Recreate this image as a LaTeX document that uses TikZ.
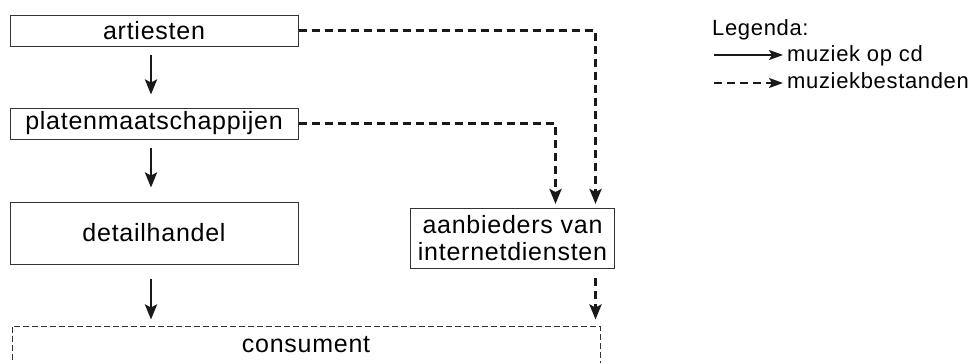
\documentclass[tikz,border=0pt]{standalone}
\usepackage{fontspec}
\setmainfont{Liberation Sans}[LetterSpace=3]
\usetikzlibrary{positioning, arrows.meta}
\tikzset{box/.style={draw=black!80, line width=1pt, minimum width=288pt, inner sep=0pt, text=black, font=\fontsize{25}{27}\selectfont},
         consbox/.style={box, dash pattern=on 6pt off 3pt, minimum width=588pt, minimum height=38pt},
         cd/.style={draw=black!90, line width=2.8pt, -{Stealth[length=15pt,width=12pt,inset=3pt]}},
         file/.style={cd, dash pattern=on 8pt off 5pt},
         legtext/.style={inner sep=0pt, text=black, font=\fontsize{22}{25}\selectfont},
         legcd/.style={draw=black!90, line width=2.2pt, -{Stealth[length=14pt,width=10pt,inset=3pt]}},
         legfile/.style={legcd, dash pattern=on 8pt off 5pt},
        }

\begin{document}
\begin{tikzpicture}[x=1pt,y=-1pt]
        \useasboundingbox (0,0) rectangle (973,362);
        \clip (0,0) rectangle (973,362);

        \node[box, minimum height=31pt](art)at(154,30.5){artiesten};
        \node[box, minimum height=31pt](plat)at(154,123.5){platenmaatschappijen};
        \node[box, minimum height=62pt](det)at(154,233){detailhandel};
        \node[box, minimum width=204pt, minimum height=60pt, align=center](aanb)at(512.5,238.5){aanbieders van\\internetdiensten};
        \node[consbox](cons)at(306,345){consument};

        \draw[cd, shorten <=8pt, shorten >=13pt]([xshift=-3pt]art.south)--([xshift=-3pt]plat.north);
        \draw[cd, shorten <=8pt, shorten >=14pt]([xshift=-3pt]plat.south)--([xshift=-3pt]det.north);
        \draw[cd, shorten <=14pt, shorten >=6pt]([xshift=-3pt]det.south)--([xshift=-3pt]det.south |- cons.north);

        \draw[file, shorten >=4pt](art.east)-|([xshift=83pt]aanb.north);
        \draw[file, shorten >=4pt](plat.east)-|([xshift=43pt]aanb.north);
        \draw[file, shorten <=9pt, shorten >=6pt]([xshift=83pt]aanb.south)--([xshift=83pt]aanb.south |- cons.north);

        \node[legtext, anchor=base west](legtitle)at(712,35){Legenda:};
        \node[legtext, anchor=base west](cdlab)at(787,61){muziek op cd};
        \node[legtext, anchor=base west](filelab)at(787,88){muziekbestanden};
        \coordinate(cdfrom)at(714,55);
        \coordinate(filefrom)at(714,83);

        \draw[legcd, shorten >=4pt](cdfrom)--(cdfrom -| cdlab.west);
        \draw[legfile, shorten >=4pt](filefrom)--(filefrom -| filelab.west);
    \end{tikzpicture}
\end{document}
